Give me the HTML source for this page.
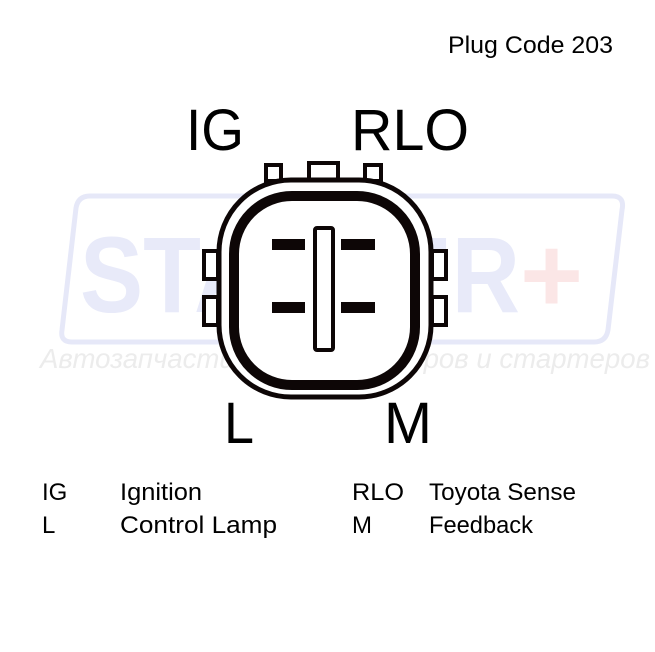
<!DOCTYPE html>
<html><head><style>html,body{margin:0;padding:0;background:#fff}svg{display:block}</style></head>
<body>
<svg width="655" height="652" viewBox="0 0 655 652" xmlns="http://www.w3.org/2000/svg" font-family="Liberation Sans, sans-serif">
<path d="M90 196 H612 Q625 196 622 210 L608 330 Q606 342 594 342 H72 Q60 342 62 330 L76 208 Q78 196 90 196 Z" fill="none" stroke="#e6e8f8" stroke-width="5"/>
<text x="80" y="312" font-size="108" font-weight="bold" fill="#e8eaf9" textLength="440" lengthAdjust="spacingAndGlyphs">STARTER</text>
<text x="520" y="312" font-size="108" font-weight="bold" fill="#fbe6e6">+</text>
<text x="40" y="368" font-size="28" font-style="italic" fill="#ececec" textLength="610" lengthAdjust="spacingAndGlyphs">Автозапчасти для генераторов и стартеров</text>
<text x="448" y="53" font-size="24" fill="#000" textLength="165" lengthAdjust="spacingAndGlyphs">Plug Code 203</text>
<text x="186" y="150" font-size="58" fill="#000" textLength="58" lengthAdjust="spacingAndGlyphs">IG</text>
<text x="351" y="150" font-size="58" fill="#000" textLength="118" lengthAdjust="spacingAndGlyphs">RLO</text>
<text x="224" y="443" font-size="58" fill="#000" textLength="30" lengthAdjust="spacingAndGlyphs">L</text>
<text x="384" y="443" font-size="58" fill="#000" textLength="48" lengthAdjust="spacingAndGlyphs">M</text>
<g font-size="24" fill="#000">
<text x="42" y="500">IG</text>
<text x="120" y="500" textLength="82" lengthAdjust="spacingAndGlyphs">Ignition</text>
<text x="352" y="500" textLength="52" lengthAdjust="spacingAndGlyphs">RLO</text>
<text x="429" y="500" textLength="147" lengthAdjust="spacingAndGlyphs">Toyota Sense</text>
<text x="42" y="533">L</text>
<text x="120" y="533" textLength="157" lengthAdjust="spacingAndGlyphs">Control Lamp</text>
<text x="352" y="533">M</text>
<text x="429" y="533" textLength="104" lengthAdjust="spacingAndGlyphs">Feedback</text>
</g>
<g fill="#fff" stroke="#0d0606" stroke-width="4">
<rect x="266" y="165" width="15" height="16"/>
<rect x="309" y="163" width="29" height="18"/>
<rect x="365" y="165" width="16" height="16"/>
<rect x="204" y="251" width="14" height="28"/>
<rect x="204" y="297" width="14" height="28"/>
<rect x="432" y="251" width="14" height="28"/>
<rect x="432" y="297" width="14" height="28"/>
<rect x="219" y="180" width="212" height="217" rx="72" stroke-width="5"/>
<rect x="234" y="196" width="181" height="189" rx="58" stroke-width="10"/>
<rect x="315" y="228" width="18" height="122" rx="2" stroke-width="4"/>
</g>
<g fill="#0d0606">
<rect x="272" y="239" width="33" height="11"/>
<rect x="341" y="239" width="34" height="11"/>
<rect x="272" y="302" width="33" height="11"/>
<rect x="341" y="302" width="34" height="11"/>
</g>
</svg>
</body></html>
